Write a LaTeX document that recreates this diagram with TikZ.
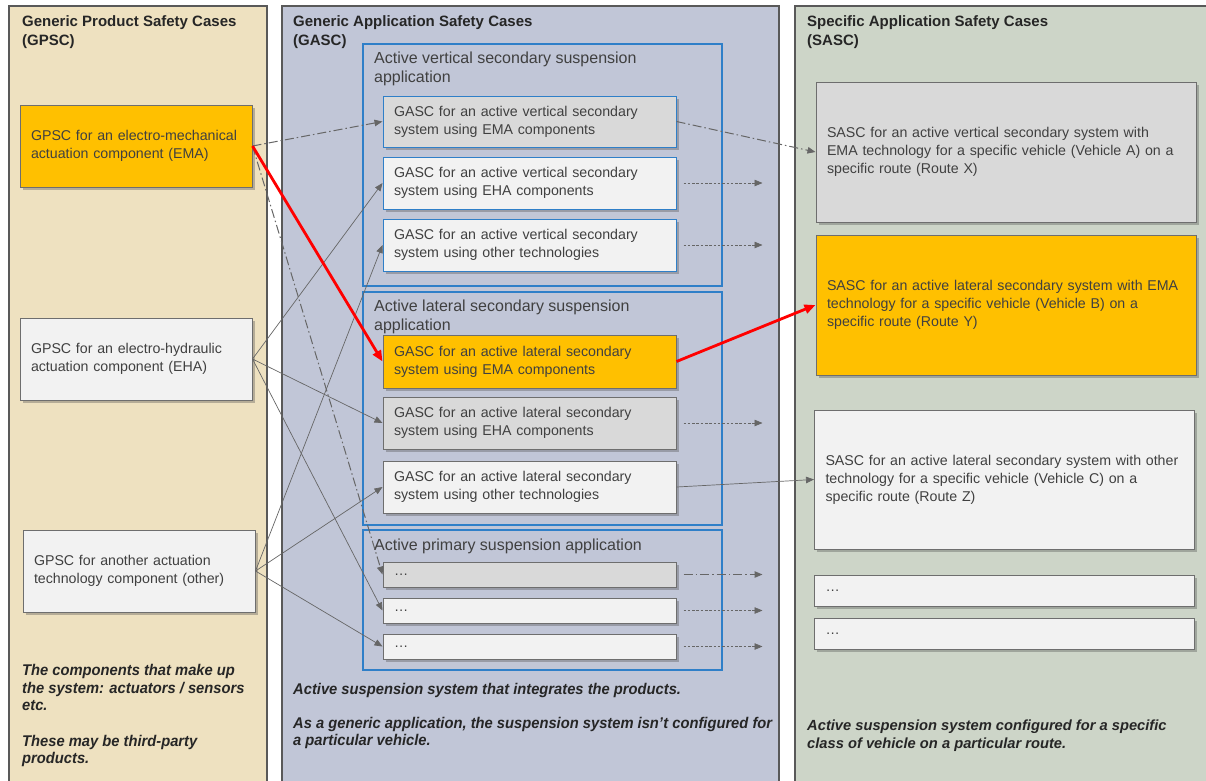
\documentclass[tikz,border=0pt]{standalone}
\usepackage{fontspec}
\setmainfont{Liberation Sans}
\newfontfamily\narrowfont[FakeStretch=0.95]{Liberation Sans}
\usepackage{xcolor}
\usetikzlibrary{positioning,arrows.meta,shadows}

\definecolor{gpscbg}{HTML}{EEE1C0}
\definecolor{gascbg}{HTML}{C1C6D7}
\definecolor{sascbg}{HTML}{CDD5C8}
\definecolor{panelline}{HTML}{595959}
\definecolor{grpblue}{HTML}{2F7FC8}
\definecolor{caseline}{HTML}{6E6E6E}
\definecolor{caseorange}{HTML}{FFC000}
\definecolor{casegray}{HTML}{D9D9D9}
\definecolor{caselight}{HTML}{F2F2F2}
\definecolor{textgray}{HTML}{404040}
\definecolor{linkgray}{HTML}{666666}

\begin{document}
\begin{tikzpicture}[x=1pt,y=-1pt,
		panel/.style={draw=panelline, line width=1.3pt},
		grp/.style={draw=grpblue, line width=1.2pt},
		head/.style={anchor=north west, inner sep=0pt, align=left, text=black!85, font=\bfseries\fontsize{15}{19}\selectfont},
		grptitle/.style={anchor=north west, inner sep=0pt, align=left, text=textgray, font=\fontsize{16}{19}\selectfont},
		note/.style={anchor=north west, inner sep=0pt, align=left, text=black!85, font=\narrowfont\bfseries\itshape\fontsize{15.5}{17.7}\selectfont},
		case/.style={draw=caseline, line width=1pt, inner xsep=11pt, inner ysep=0pt, align=left, text=textgray,
			font=\fontsize{14.2}{18}\selectfont,
			drop shadow={shadow xshift=2.5pt, shadow yshift=-2.5pt, opacity=0.35, fill=black!70}},
		gpsc/.style={case, text width=210pt, minimum height=82pt},
		gasc/.style={case, text width=271pt},
		sasc/.style={case, text width=358pt},
		link/.style={draw=linkgray, line width=0.7pt, -{Triangle[length=8pt,width=6.5pt]}},
		dashdot/.style={link, line width=1pt, dash pattern=on 9pt off 3pt on 1.5pt off 3pt},
		stub/.style={link, dash pattern=on 2.5pt off 1.8pt, shorten <=7pt},
		hot/.style={draw=red, line width=2.8pt, -{Triangle[length=11pt,width=9pt]}}
	]
	\clip (0,0) rectangle (1206,780);
	\fill[white] (0,0) rectangle (1206,780);
	
	\draw[panel, fill=gpscbg] (9,6) rectangle (267,790);
	\draw[panel, fill=gascbg] (282,6) rectangle (779,790);
	\draw[panel, fill=sascbg] (795,6) rectangle (1215,790);
	
	\node[head] (hGPSC) at (22,15) {Generic Product Safety Cases\\(GPSC)};
	\node[head] (hGASC) at (293,15) {Generic Application Safety Cases\\(GASC)};
	\node[head] (hSASC) at (807,15) {Specific Application Safety Cases\\(SASC)};
	
	\draw[grp] (363,44) rectangle (722,286);
	\draw[grp] (363,292) rectangle (722,525);
	\draw[grp] (363,530) rectangle (722,670);
	\node[grptitle] (tVert) at (374,52) {Active vertical secondary suspension\\application};
	\node[grptitle] (tLat) at (374,300) {Active lateral secondary suspension\\application};
	\node[grptitle] (tPrim) at (374,539) {Active primary suspension application};
	
	% product cases
	\node[gpsc, fill=caseorange] (gEMA) at (136,146) {GPSC for an electro-mechanical\\actuation component (EMA)};
	\node[gpsc, fill=caselight] (gEHA) at (136,359) {GPSC for an electro-hydraulic\\actuation component (EHA)};
	\node[gpsc, fill=caselight] (gOther) at (139,571) {GPSC for another actuation\\technology component (other)};
	
	% application cases
	\node[gasc, draw=grpblue, fill=casegray, minimum height=51pt] (vEMA) at (529.5,121.5) {GASC for an active vertical secondary\\system using EMA components};
	\node[gasc, draw=grpblue, fill=caselight, minimum height=52pt] (vEHA) at (529.5,183) {GASC for an active vertical secondary\\system using EHA components};
	\node[gasc, draw=grpblue, fill=caselight, minimum height=52pt] (vOther) at (529.5,245) {GASC for an active vertical secondary\\system using other technologies};
	\node[gasc, fill=caseorange, minimum height=53pt] (lEMA) at (529.5,361.5) {GASC for an active lateral secondary\\system using EMA components};
	\node[gasc, fill=casegray, minimum height=52pt] (lEHA) at (529.5,423) {GASC for an active lateral secondary\\system using EHA components};
	\node[gasc, fill=caselight, minimum height=52pt] (lOther) at (529.5,487) {GASC for an active lateral secondary\\system using other technologies};
	\node[gasc, fill=casegray, minimum height=25pt] (pA) at (529.5,574.5) {…};
	\node[gasc, fill=caselight, minimum height=25pt] (pB) at (529.5,610.5) {…};
	\node[gasc, fill=caselight, minimum height=25pt] (pC) at (529.5,646.5) {…};
	
	% specific cases
	\node[sasc, fill=casegray, minimum height=140pt] (sA) at (1006,152) {SASC for an active vertical secondary system with\\EMA technology for a specific vehicle (Vehicle A) on a\\specific route (Route X)};
	\node[sasc, fill=caseorange, minimum height=140pt] (sB) at (1006,305) {SASC for an active lateral secondary system with EMA\\technology for a specific vehicle (Vehicle B) on a\\specific route (Route Y)};
	\node[sasc, fill=caselight, minimum height=139pt] (sC) at (1004.5,479.5) {SASC for an active lateral secondary system with other\\technology for a specific vehicle (Vehicle C) on a\\specific route (Route Z)};
	\node[sasc, fill=caselight, minimum height=31pt] (sD) at (1004.5,590.5) {…};
	\node[sasc, fill=caselight, minimum height=31pt] (sE) at (1004.5,633.5) {…};
	
	\node[note] (nGPSC) at (22,664) {The components that make up\\the system: actuators / sensors\\etc.\\[17.7pt]These may be third-party\\products.};
	\node[note] (nGASC) at (293,683) {Active suspension system that integrates the products.\\[16pt]As a generic application, the suspension system isn’t configured for\\a particular vehicle.};
	\node[note, font=\bfseries\itshape\fontsize{14.7}{18}\selectfont] (nSASC) at (807,720) {Active suspension system configured for a specific\\class of vehicle on a particular route.};
	
	% links
	\draw[dashdot] (gEMA.east) -- (vEMA.west);
	\draw[dashdot] (gEMA.east) -- (pA.west);
	\foreach \t in {vEHA,lEHA,pB} { \draw[link] (gEHA.east) -- (\t.west); }
	\foreach \t in {vOther,lOther,pC} { \draw[link] (gOther.east) -- (\t.west); }
	\draw[dashdot] (vEMA.east) -- (sA.west);
	\draw[link] (lOther.east) -- (sC.west);
	
	\foreach \b in {vEHA,vOther,lEHA,pB,pC} {
		\path (\b.east) ++(86,0) coordinate (\b-end);
		\draw[stub] (\b.east) -- (\b-end);
	}
	\path (pA.east) ++(86,0) coordinate (pA-end);
	\draw[dashdot, shorten <=7pt] (pA.east) -- (pA-end);
	
	\draw[hot] (gEMA.east) -- (lEMA.west);
	\draw[hot] (lEMA.east) -- (sB.west);
\end{tikzpicture}
\end{document}
